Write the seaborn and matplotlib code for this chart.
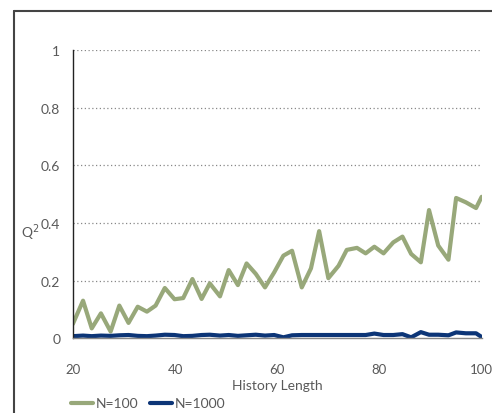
import numpy as np
import pandas as pd
import matplotlib.pyplot as plt
import seaborn as sns
from matplotlib.lines import Line2D

# history lengths
history = [20, 22, 23.7, 25.5, 27.4, 29.1, 30.9, 32.7, 34.5, 36.2,
           38, 39.9, 41.6, 43.4, 45.2, 46.8, 48.8, 50.5, 52.3, 54,
           55.8, 57.6, 59.4, 61.2, 62.9, 64.8, 66.6, 68.2, 70, 72,
           73.6, 75.6, 77.3, 79, 80.8, 82.7, 84.5, 86.2, 88.1, 89.7,
           91.5, 93.5, 95, 96.9, 98.9, 100]

q2_n100 = [0.05, 0.131, 0.035, 0.087, 0.024, 0.114, 0.054, 0.11, 0.093, 0.114,
           0.175, 0.136, 0.14, 0.206, 0.137, 0.191, 0.146, 0.237, 0.185, 0.26,
           0.224, 0.177, 0.229, 0.287, 0.304, 0.177, 0.243, 0.372, 0.209, 0.252,
           0.307, 0.314, 0.295, 0.318, 0.295, 0.333, 0.353, 0.293, 0.264, 0.445,
           0.322, 0.273, 0.487, 0.472, 0.452, 0.491]

q2_n1000 = [0.008, 0.01, 0.008, 0.01, 0.009, 0.011, 0.012, 0.009, 0.008, 0.01,
            0.013, 0.012, 0.008, 0.009, 0.012, 0.013, 0.01, 0.012, 0.009, 0.011,
            0.013, 0.01, 0.012, 0.004, 0.011, 0.012, 0.012, 0.012, 0.012, 0.012,
            0.012, 0.012, 0.012, 0.017, 0.012, 0.012, 0.015, 0.004, 0.022, 0.013,
            0.013, 0.011, 0.021, 0.018, 0.018, 0.005]

labels = ['N=100', 'N=1000']
colors = ['#98A87A', '#0C3577']

df = pd.DataFrame({
    'History Length': history * 2,
    'Q2': q2_n100 + q2_n1000,
    'series': [labels[0]] * len(history) + [labels[1]] * len(history),
})

sns.set_style('white')
plt.rcParams['font.family'] = ['Lato', 'DejaVu Sans']
txt = '#595959'

fig = plt.figure(figsize=(4.92, 4.14), dpi=100)
ax = fig.add_axes([0.148, 0.18, 0.831, 0.697])

sns.lineplot(data=df, x='History Length', y='Q2', hue='series',
             palette=colors, linewidth=3, ax=ax, legend=False)

ax.set_xlim(20, 100)
ax.set_ylim(0, 1)
ax.set_xticks([20, 40, 60, 80, 100])
ax.set_yticks([0, 0.2, 0.4, 0.6, 0.8, 1])
ax.set_yticklabels(['0', '0.2', '0.4', '0.6', '0.8', '1'])
for y in [0.2, 0.4, 0.6, 0.8, 1]:
    ax.axhline(y, color='#888888', linestyle=(0, (1, 2)), linewidth=0.9, zorder=0)

for s in ['top', 'right']:
    ax.spines[s].set_visible(False)
ax.spines['left'].set_color('#222222')
ax.spines['left'].set_linewidth(1.0)
ax.spines['bottom'].set_color('#888888')
ax.spines['bottom'].set_linewidth(1.0)

ax.tick_params(axis='x', colors=txt, labelsize=9.5, length=3, direction='inout', pad=16)
ax.tick_params(axis='y', colors=txt, labelsize=10, length=0, pad=9)
ax.set_xlabel('History Length', color=txt, fontsize=10, labelpad=3)
ax.set_ylabel('')
fig.text(30 / 492, 1 - 233 / 414, 'Q$^2$', color=txt, fontsize=10,
         ha='center', va='center')

handles = [Line2D([], [], color=c, linewidth=3) for c in colors]
ax.legend(handles, labels, loc='center left', bbox_to_anchor=(-0.005, -0.225),
          ncol=2, frameon=False, fontsize=10, labelcolor=txt,
          handlelength=1.6, handletextpad=0.2, columnspacing=0.8,
          borderaxespad=0, borderpad=0)

# outer frame
fig.add_artist(Line2D([0.0285, 1.0], [0.971, 0.971], color='#444444', linewidth=1.5))
fig.add_artist(Line2D([0.0285, 0.0285], [0.0, 0.971], color='#444444', linewidth=1.5))

fig.savefig('out.png', dpi=100)
